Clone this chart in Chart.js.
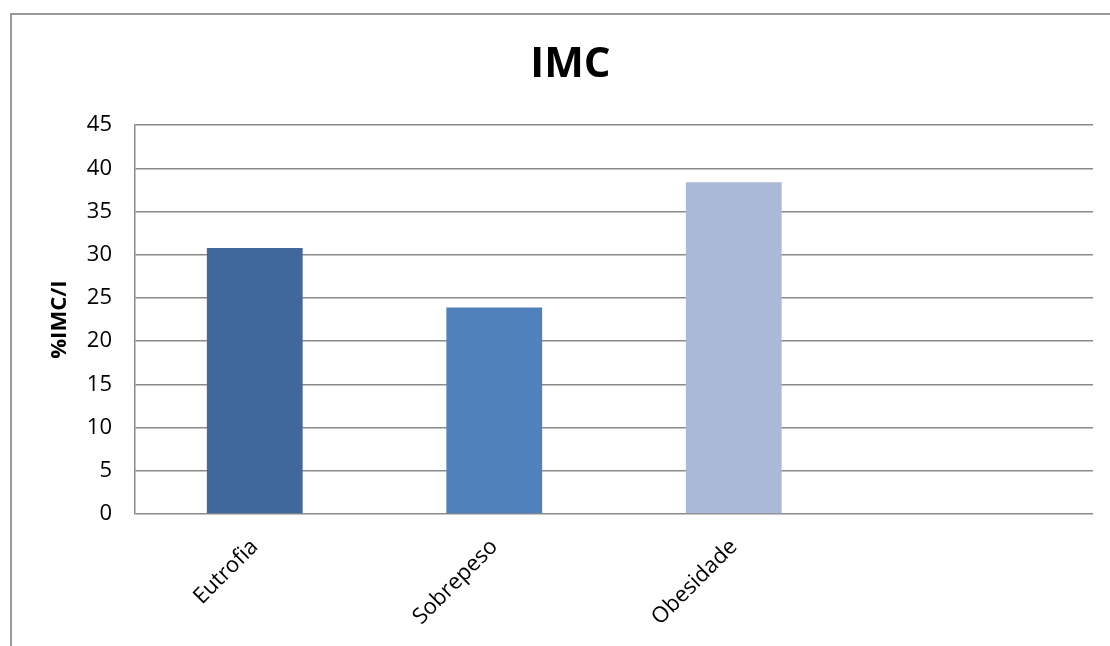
<!DOCTYPE html>
<html>
<head>
<meta charset="utf-8">
<script src="https://cdn.jsdelivr.net/npm/chart.js@4/dist/chart.umd.min.js"></script>
<style>
  html, body { margin: 0; padding: 0; background: #fff; overflow: hidden; }
  #frame { position: absolute; left: 10px; top: 13px; width: 1200px; height: 700px;
           border-left: 2px solid #999; border-top: 2px solid #999; }
  #wrap { position: absolute; left: 0; top: 0; width: 1110px; height: 646px; }
</style>
</head>
<body>
<div id="frame"></div>
<div id="wrap"><canvas id="c" width="1110" height="646"></canvas></div>
<script>
const categories = ['Eutrofia', 'Sobrepeso', 'Obesidade', ''];
const values = [30.8, 23.9, 38.4, null];
const yTicks = [0, 5, 10, 15, 20, 25, 30, 35, 40, 45];
const chartTitle = 'IMC';
const yTitle = '%IMC/I';
const barColors = ['#40689A', '#4F81BD', '#AAB9D7', '#AAB9D7'];

const FONT = "'Open Sans', 'Liberation Sans', sans-serif";

const shiftTitle = {
  id: 'shiftTitle',
  afterLayout(chart) {
    if (chart.titleBlock) { chart.titleBlock.left = 48; }
  }
};

new Chart(document.getElementById('c'), {
  type: 'bar',
  data: {
    labels: categories,
    datasets: [{
      data: values,
      backgroundColor: barColors,
      borderWidth: 0,
      categoryPercentage: 1,
      barPercentage: 0.4
    }]
  },
  plugins: [shiftTitle],
  options: {
    responsive: false,
    animation: false,
    layout: { padding: { left: 0, right: 17, top: 0, bottom: 0 } },
    plugins: {
      legend: { display: false },
      tooltip: { enabled: false },
      title: {
        display: true,
        text: chartTitle,
        color: '#000',
        font: { family: FONT, size: 42, weight: 'bold', lineHeight: 1.2 },
        padding: { top: 40, bottom: 34.8 }
      }
    },
    scales: {
      x: {
        grid: { display: false, drawTicks: false },
        border: { display: false },
        ticks: {
          color: '#000',
          font: { family: FONT, size: 22 },
          minRotation: 45,
          maxRotation: 45,
          padding: 20,
          autoSkip: false
        },
        afterFit: (s) => { s.height = 132; }
      },
      y: {
        min: 0,
        max: 45,
        afterBuildTicks: (s) => { s.ticks = yTicks.map(v => ({ value: v })); },
        grid: { color: '#8a8a8a', lineWidth: 1.5, drawTicks: false },
        border: { display: true, color: '#8a8a8a', width: 1.5 },
        ticks: {
          color: '#000',
          font: { family: FONT, size: 22 },
          padding: 23
        },
        title: {
          display: true,
          text: yTitle,
          color: '#000',
          font: { family: FONT, size: 22, weight: 'bold', lineHeight: 1.2 },
          padding: { top: 47, bottom: 0 }
        },
        afterFit: (s) => { s.width = 135; }
      }
    }
  }
});
</script>
</body>
</html>
